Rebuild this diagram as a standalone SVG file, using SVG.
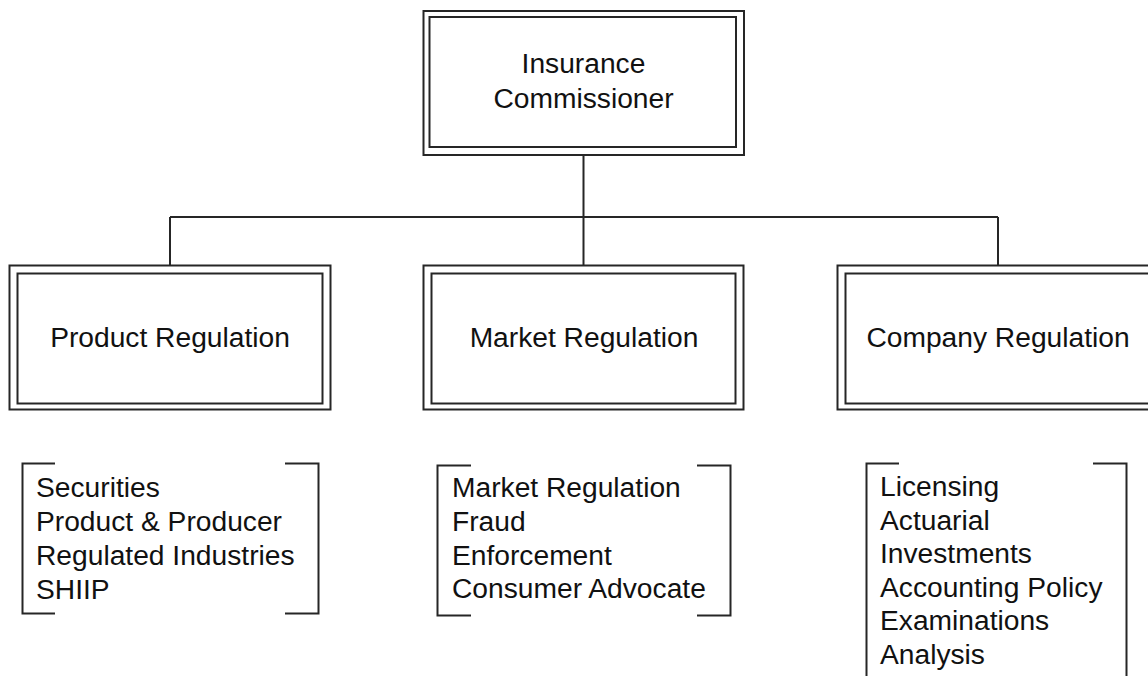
<svg xmlns="http://www.w3.org/2000/svg" width="1148" height="676" viewBox="0 0 1148 676">
<style>
.box{fill:none;stroke:#262626;stroke-width:2}
.ln{fill:none;stroke:#262626;stroke-width:2}
.t{font-family:"Liberation Sans",Arial,sans-serif;font-size:28.2px;fill:#111}
.c{text-anchor:middle}
</style>
<rect width="1148" height="676" fill="#fff"/>
<g id="connectors">
<path class="ln" d="M583.5 155 V217 M170 217 H998 M170 217 V265 M583.5 217 V265 M998 217 V265"/>
</g>
<g id="commissioner">
<rect class="box" x="423.5" y="11" width="320.5" height="144"/>
<rect class="box" x="429.5" y="17" width="306.5" height="130"/>
<text class="t c" x="583.5" y="73">Insurance</text>
<text class="t c" x="583.5" y="108">Commissioner</text>
</g>
<g id="product">
<rect class="box" x="9.5" y="265.5" width="321" height="144"/>
<rect class="box" x="17.5" y="273.5" width="305" height="130"/>
<text class="t c" x="170" y="347">Product Regulation</text>
</g>
<g id="market">
<rect class="box" x="423.5" y="265.5" width="320" height="144"/>
<rect class="box" x="431.5" y="273.5" width="304" height="130"/>
<text class="t c" x="584" y="347">Market Regulation</text>
</g>
<g id="company">
<rect class="box" x="837.5" y="265.5" width="321" height="144"/>
<rect class="box" x="845.5" y="273.5" width="305" height="130"/>
<text class="t c" x="998" y="347">Company Regulation</text>
</g>
<g id="product-list">
<path class="ln" d="M55 463.5 H22.5 V613.5 H55 M285 463.5 H318.5 V613.5 H285"/>
<text class="t" x="36" y="497">Securities</text>
<text class="t" x="36" y="531">Product &amp; Producer</text>
<text class="t" x="36" y="565">Regulated Industries</text>
<text class="t" x="36" y="599">SHIIP</text>
</g>
<g id="market-list">
<path class="ln" d="M471 465.5 H437.5 V615.5 H471 M697 465.5 H730.5 V615.5 H697"/>
<text class="t" x="452" y="497">Market Regulation</text>
<text class="t" x="452" y="531">Fraud</text>
<text class="t" x="452" y="565">Enforcement</text>
<text class="t" x="452" y="598">Consumer Advocate</text>
</g>
<g id="company-list">
<path class="ln" d="M899 463.5 H866.5 V680 M1093 463.5 H1126.5 V680"/>
<text class="t" x="880" y="496">Licensing</text>
<text class="t" x="880" y="529.6">Actuarial</text>
<text class="t" x="880" y="563.2">Investments</text>
<text class="t" x="880" y="596.8">Accounting Policy</text>
<text class="t" x="880" y="630.4">Examinations</text>
<text class="t" x="880" y="664">Analysis</text>
</g>
</svg>
